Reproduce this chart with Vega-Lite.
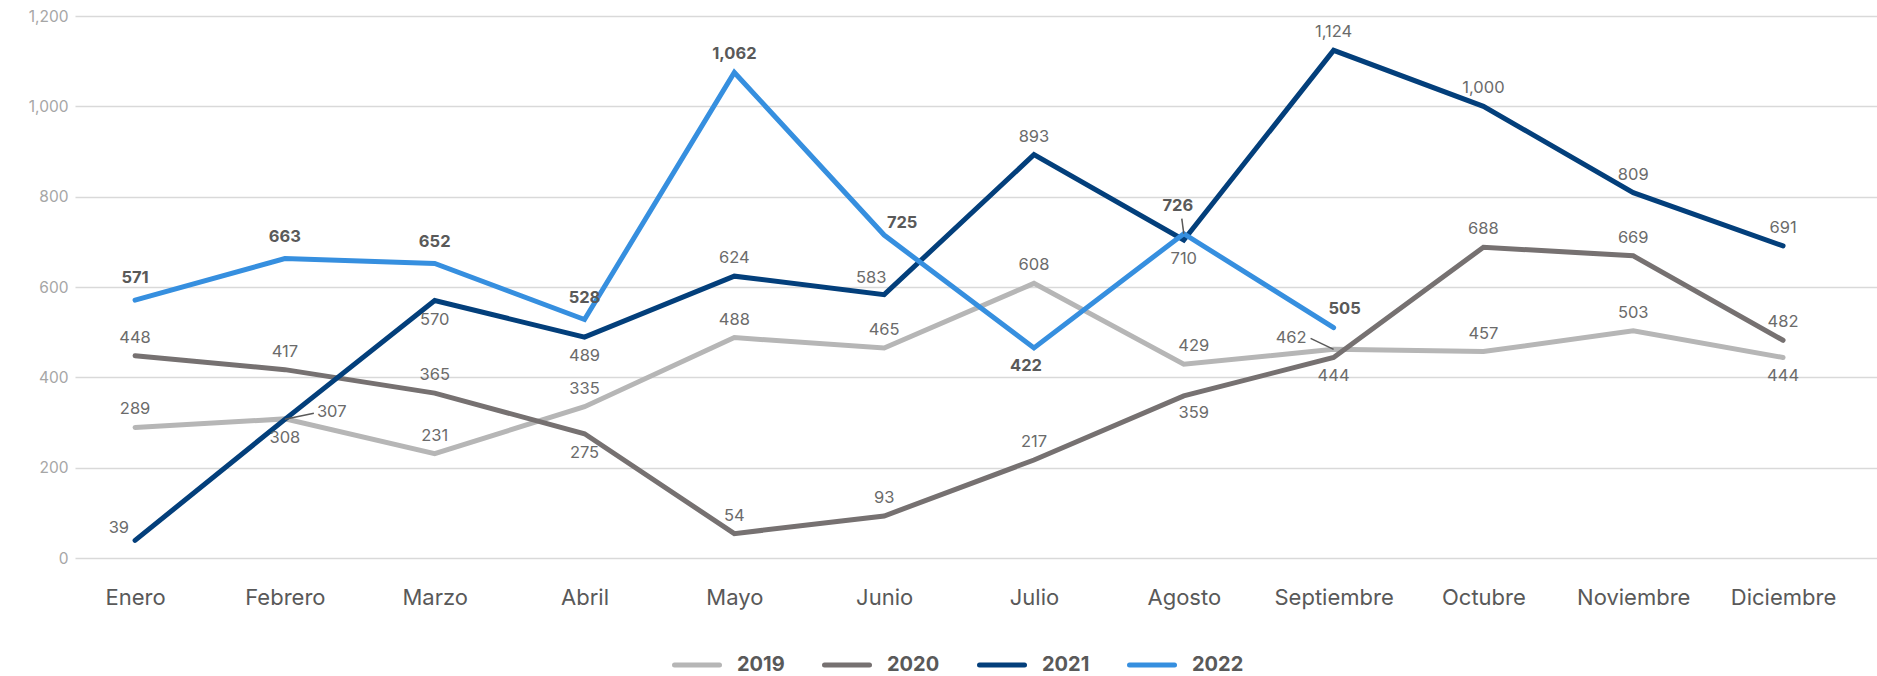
{
  "$schema": "https://vega.github.io/schema/vega-lite/v6.json",
  "width": 1802,
  "height": 542,
  "autosize": {"type": "none"},
  "padding": {"left": 75, "top": 16, "right": 0, "bottom": 118},
  "config": {"view": {"stroke": null}, "font": "Inter"},
  "data": {
    "values": [
      {"year": "2019", "month": "Enero", "value": 289, "label": 289},
      {"year": "2019", "month": "Febrero", "value": 308, "label": 308},
      {"year": "2019", "month": "Marzo", "value": 231, "label": 231},
      {"year": "2019", "month": "Abril", "value": 335, "label": 335},
      {"year": "2019", "month": "Mayo", "value": 488, "label": 488},
      {"year": "2019", "month": "Junio", "value": 465, "label": 465},
      {"year": "2019", "month": "Julio", "value": 608, "label": 608},
      {"year": "2019", "month": "Agosto", "value": 429, "label": 429},
      {"year": "2019", "month": "Septiembre", "value": 462, "label": 462},
      {"year": "2019", "month": "Octubre", "value": 457, "label": 457},
      {"year": "2019", "month": "Noviembre", "value": 503, "label": 503},
      {"year": "2019", "month": "Diciembre", "value": 444, "label": 444},
      {"year": "2020", "month": "Enero", "value": 448, "label": 448},
      {"year": "2020", "month": "Febrero", "value": 417, "label": 417},
      {"year": "2020", "month": "Marzo", "value": 365, "label": 365},
      {"year": "2020", "month": "Abril", "value": 275, "label": 275},
      {"year": "2020", "month": "Mayo", "value": 54, "label": 54},
      {"year": "2020", "month": "Junio", "value": 93, "label": 93},
      {"year": "2020", "month": "Julio", "value": 217, "label": 217},
      {"year": "2020", "month": "Agosto", "value": 359, "label": 359},
      {"year": "2020", "month": "Septiembre", "value": 444, "label": 444},
      {"year": "2020", "month": "Octubre", "value": 688, "label": 688},
      {"year": "2020", "month": "Noviembre", "value": 669, "label": 669},
      {"year": "2020", "month": "Diciembre", "value": 482, "label": 482},
      {"year": "2021", "month": "Enero", "value": 39, "label": 39},
      {"year": "2021", "month": "Febrero", "value": 307, "label": 307},
      {"year": "2021", "month": "Marzo", "value": 570, "label": 570},
      {"year": "2021", "month": "Abril", "value": 489, "label": 489},
      {"year": "2021", "month": "Mayo", "value": 624, "label": 624},
      {"year": "2021", "month": "Junio", "value": 583, "label": 583},
      {"year": "2021", "month": "Julio", "value": 893, "label": 893},
      {"year": "2021", "month": "Agosto", "value": 704, "label": 710},
      {"year": "2021", "month": "Septiembre", "value": 1124, "label": 1124},
      {"year": "2021", "month": "Octubre", "value": 1000, "label": 1000},
      {"year": "2021", "month": "Noviembre", "value": 809, "label": 809},
      {"year": "2021", "month": "Diciembre", "value": 691, "label": 691},
      {"year": "2022", "month": "Enero", "value": 571, "label": 571},
      {"year": "2022", "month": "Febrero", "value": 663, "label": 663},
      {"year": "2022", "month": "Marzo", "value": 652, "label": 652},
      {"year": "2022", "month": "Abril", "value": 528, "label": 528},
      {"year": "2022", "month": "Mayo", "value": 1075, "label": 1062},
      {"year": "2022", "month": "Junio", "value": 715, "label": 725},
      {"year": "2022", "month": "Julio", "value": 465, "label": 422},
      {"year": "2022", "month": "Agosto", "value": 718, "label": 726},
      {"year": "2022", "month": "Septiembre", "value": 510, "label": 505}
    ]
  },
  "transform": [{"calculate": "datum.year + '|' + datum.month", "as": "key"}],
  "encoding": {
    "x": {
      "field": "month",
      "type": "ordinal",
      "sort": ["Enero", "Febrero", "Marzo", "Abril", "Mayo", "Junio", "Julio", "Agosto", "Septiembre", "Octubre", "Noviembre", "Diciembre"],
      "scale": {"type": "point", "padding": 0.514, "align": 0.39},
      "axis": {"title": null, "labelAngle": 0, "labelFontSize": 22, "labelColor": "#595959", "domain": false, "ticks": false, "labelPadding": 29, "grid": false}
    },
    "y": {
      "field": "value",
      "type": "quantitative",
      "scale": {"domain": [0, 1200], "nice": false},
      "axis": {"title": null, "values": [0, 200, 400, 600, 800, 1000, 1200], "format": ",.0f", "labelColor": "#a6a6a6", "labelFontSize": 15.5, "domain": false, "ticks": false, "labelPadding": 7, "gridColor": "#d9d9d9", "gridWidth": 1.5}
    }
  },
  "layer": [
    {
      "mark": {"type": "line", "strokeCap": "round"},
      "encoding": {
        "color": {
          "field": "year",
          "type": "nominal",
          "scale": {"domain": ["2019", "2020", "2021", "2022"], "range": ["#b6b6b6", "#767171", "#033f7b", "#368fdf"]},
          "legend": {
            "title": null,
            "orient": "none",
            "legendX": 597,
            "legendY": 624,
            "direction": "horizontal",
            "symbolType": "stroke",
            "symbolSize": 2025,
            "symbolStrokeWidth": 6,
            "labelFontSize": 20,
            "labelFontWeight": "bold",
            "labelColor": "#595959",
            "labelOffset": 15,
            "columnPadding": 29,
            "encode": {"symbols": {"update": {"strokeCap": {"value": "round"}}}}
          }
        },
        "strokeWidth": {
          "field": "year",
          "type": "nominal",
          "scale": {"domain": ["2019", "2020", "2021", "2022"], "range": [5, 5, 5, 6.5]},
          "legend": null
        }
      }
    },
    {
      "transform": [{"filter": {"field": "key", "equal": "2019|Septiembre"}}],
      "mark": {"type": "rule", "color": "#595959", "strokeWidth": 1.5, "x2Offset": -23, "y2Offset": -11},
      "encoding": {"x2": {"field": "month"}, "y2": {"field": "value"}}
    },
    {
      "transform": [{"filter": {"field": "key", "equal": "2021|Febrero"}}],
      "mark": {"type": "rule", "color": "#595959", "strokeWidth": 1.5, "x2Offset": 29, "y2Offset": -6},
      "encoding": {"x2": {"field": "month"}, "y2": {"field": "value"}}
    },
    {
      "transform": [{"filter": {"field": "key", "equal": "2022|Agosto"}}],
      "mark": {"type": "rule", "color": "#595959", "strokeWidth": 1.5, "x2Offset": -2, "y2Offset": -15},
      "encoding": {"x2": {"field": "month"}, "y2": {"field": "value"}}
    },
    {
      "transform": [{"filter": {"field": "key", "oneOf": ["2019|Enero", "2019|Marzo", "2019|Abril", "2019|Mayo", "2019|Junio", "2019|Julio", "2019|Octubre", "2019|Noviembre", "2020|Enero", "2020|Febrero", "2020|Marzo", "2020|Mayo", "2020|Junio", "2020|Julio", "2020|Octubre", "2020|Noviembre", "2020|Diciembre", "2021|Mayo", "2021|Julio", "2021|Septiembre", "2021|Octubre", "2021|Noviembre", "2021|Diciembre"]}}],
      "mark": {"type": "text", "dy": -18, "fontSize": 16.5, "color": "#6b6b6b"},
      "encoding": {"text": {"field": "label", "type": "quantitative", "format": ","}}
    },
    {
      "transform": [{"filter": {"field": "key", "equal": "2019|Agosto"}}],
      "mark": {"type": "text", "dx": 10, "dy": -18, "fontSize": 16.5, "color": "#6b6b6b"},
      "encoding": {"text": {"field": "label", "type": "quantitative", "format": ","}}
    },
    {
      "transform": [{"filter": {"field": "key", "oneOf": ["2019|Febrero", "2019|Diciembre", "2020|Abril", "2020|Septiembre", "2021|Marzo", "2021|Abril", "2021|Agosto"]}}],
      "mark": {"type": "text", "dy": 19, "fontSize": 16.5, "color": "#6b6b6b"},
      "encoding": {"text": {"field": "label", "type": "quantitative", "format": ","}}
    },
    {
      "transform": [{"filter": {"field": "key", "equal": "2020|Agosto"}}],
      "mark": {"type": "text", "dx": 10, "dy": 17, "fontSize": 16.5, "color": "#6b6b6b"},
      "encoding": {"text": {"field": "label", "type": "quantitative", "format": ","}}
    },
    {
      "transform": [{"filter": {"field": "key", "equal": "2021|Junio"}}],
      "mark": {"type": "text", "dx": -13, "dy": -17, "fontSize": 16.5, "color": "#6b6b6b"},
      "encoding": {"text": {"field": "label", "type": "quantitative", "format": ","}}
    },
    {
      "transform": [{"filter": {"field": "key", "equal": "2019|Septiembre"}}],
      "mark": {"type": "text", "align": "right", "dx": -27, "dy": -11, "fontSize": 16.5, "color": "#6b6b6b"},
      "encoding": {"text": {"field": "label", "type": "quantitative", "format": ","}}
    },
    {
      "transform": [{"filter": {"field": "key", "equal": "2021|Enero"}}],
      "mark": {"type": "text", "align": "right", "dx": -6, "dy": -12, "fontSize": 16.5, "color": "#6b6b6b"},
      "encoding": {"text": {"field": "label", "type": "quantitative", "format": ","}}
    },
    {
      "transform": [{"filter": {"field": "key", "equal": "2021|Febrero"}}],
      "mark": {"type": "text", "align": "left", "dx": 32, "dy": -7, "fontSize": 16.5, "color": "#6b6b6b"},
      "encoding": {"text": {"field": "label", "type": "quantitative", "format": ","}}
    },
    {
      "transform": [{"filter": {"field": "key", "oneOf": ["2022|Enero", "2022|Febrero", "2022|Marzo", "2022|Abril"]}}],
      "mark": {"type": "text", "dy": -22, "fontSize": 16.5, "fontWeight": "bold", "color": "#595959"},
      "encoding": {"text": {"field": "label", "type": "quantitative", "format": ","}}
    },
    {
      "transform": [{"filter": {"field": "key", "equal": "2022|Mayo"}}],
      "mark": {"type": "text", "dy": -18, "fontSize": 16.5, "fontWeight": "bold", "color": "#595959"},
      "encoding": {"text": {"field": "label", "type": "quantitative", "format": ","}}
    },
    {
      "transform": [{"filter": {"field": "key", "equal": "2022|Junio"}}],
      "mark": {"type": "text", "dx": 18, "dy": -12, "fontSize": 16.5, "fontWeight": "bold", "color": "#595959"},
      "encoding": {"text": {"field": "label", "type": "quantitative", "format": ","}}
    },
    {
      "transform": [{"filter": {"field": "key", "equal": "2022|Septiembre"}}],
      "mark": {"type": "text", "dx": 11, "dy": -19, "fontSize": 16.5, "fontWeight": "bold", "color": "#595959"},
      "encoding": {"text": {"field": "label", "type": "quantitative", "format": ","}}
    },
    {
      "transform": [{"filter": {"field": "key", "equal": "2022|Agosto"}}],
      "mark": {"type": "text", "dx": -6, "dy": -28, "fontSize": 16.5, "fontWeight": "bold", "color": "#595959"},
      "encoding": {"text": {"field": "label", "type": "quantitative", "format": ","}}
    },
    {
      "transform": [{"filter": {"field": "key", "equal": "2022|Julio"}}],
      "mark": {"type": "text", "dx": -8, "dy": 18, "fontSize": 16.5, "fontWeight": "bold", "color": "#595959"},
      "encoding": {"text": {"field": "label", "type": "quantitative", "format": ","}}
    }
  ]
}
